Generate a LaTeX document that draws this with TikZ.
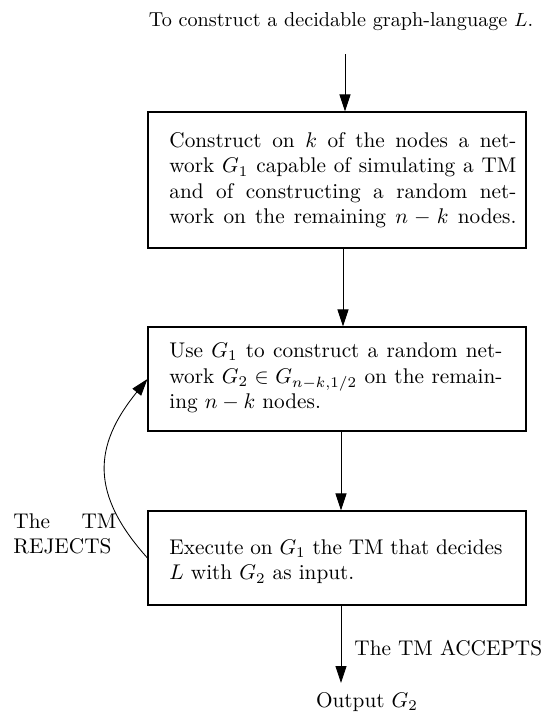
\documentclass[tikz,border=0pt]{standalone}
\usetikzlibrary{arrows.meta,fit}

% one unit = one pixel of the 541 x 714 layout grid, y grows downwards
\tikzset{
  box/.style={draw, line width=0.5pt, inner sep=0pt},
  flow/.style={line width=0.4pt, -{Triangle[length=8pt,width=5.2pt]}},
  para/.style={anchor=north west, inner sep=0pt, align=left},
  plain/.style={inner sep=0pt},
}
% a justified line of a given width (interword glue allowed to stretch)
\newcommand\jline[2]{\makebox[#1][s]{\spaceskip=0pt\relax\xspaceskip=0pt\relax #2}}

\begin{document}
\begin{tikzpicture}[x=0.4706pt, y=-0.4706pt]
\useasboundingbox (0,0) rectangle (541,714);

% heading
\node[plain, anchor=base, font=\fontsize{9.5}{11.4}\selectfont] (head) at (341,26.7)
  {To construct a decidable graph-language $L$.};
\coordinate (start) at (345,54);

% the three steps
\node[box, fit={(148,112) (526,248)}] (b1) {};
\node[para, text width=163.3pt] (t1) at (169,130) {\noindent\rule{0pt}{8pt}%
  \jline{163.3pt}{Construct on $k$ of the nodes a net-}\\
  \jline{163.3pt}{work $G_1$ capable of simulating a TM}\\
  \jline{163.3pt}{and of constructing a random net-}\\
  \jline{163.3pt}{work on the remaining $n-k$ nodes.}};

\node[box, fit={(148,327) (526,431)}] (b2) {};
\node[para, text width=156.7pt] (t2) at (169,340.3) {\noindent\rule{0pt}{8pt}%
  \jline{156.7pt}{Use $G_1$ to construct a random net-}\\
  \jline{156.7pt}{work $G_2\in G_{n-k,1/2}$ on the remain-}\\
  ing $n-k$ nodes.};

\node[box, fit={(148,511) (526,605)}] (b3) {};
\node[para, text width=156.7pt] (t3) at (169,537) {\noindent\rule{0pt}{8pt}%
  \jline{156.7pt}{Execute on $G_1$ the TM that decides}\\
  $L$ with $G_2$ as input.};

% result
\coordinate (end) at (341,683);
\node[plain, anchor=base] (out) at (367,707) {Output $G_2$};

% labels of the two outcomes
\node[para, text width=48.5pt] (rej) at (13,511) {\noindent\rule{0pt}{8pt}%
  \jline{48.5pt}{The TM}\\
  REJECTS};
\node[plain, anchor=base west] (acc) at (354,655) {The TM ACCEPTS};

% connectors
\draw[flow] (start) -- (start |- b1.north);
\draw[flow] (b1.south -| 343,0) -- (b2.north -| 343,0);
\draw[flow] (b2.south -| 341,0) -- (b3.north -| 341,0);
\draw[flow] (b3.south -| end) -- (end);
\draw[flow] (b3.west) .. controls (90,494) and (93,446) .. (b2.west);
\end{tikzpicture}
\end{document}
